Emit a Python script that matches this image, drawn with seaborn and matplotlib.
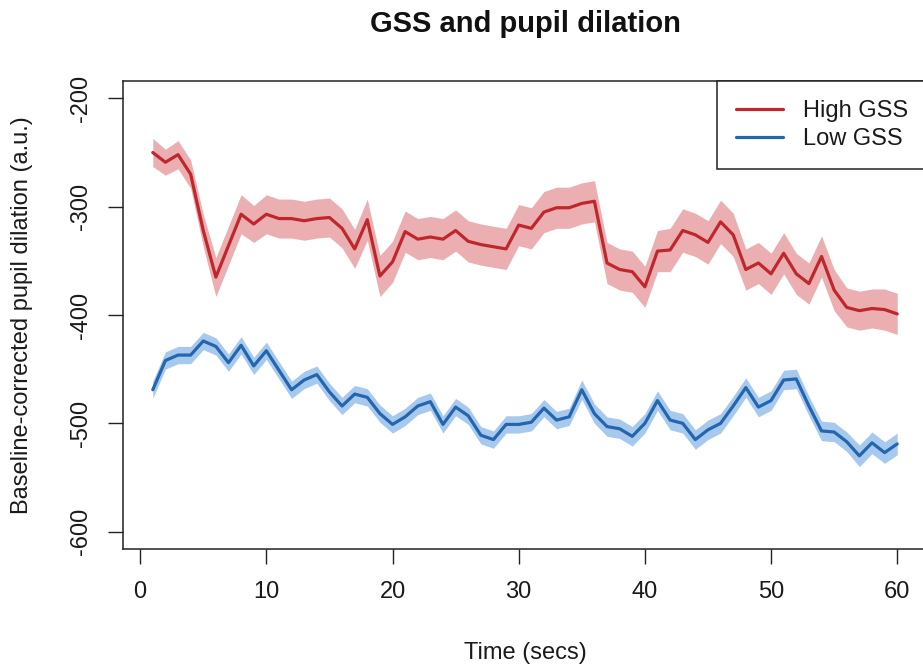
import numpy as np
import pandas as pd
import matplotlib
matplotlib.use("Agg")
import matplotlib.pyplot as plt
import seaborn as sns

# Time points (seconds)
time_secs = list(range(1, 61))

# Mean baseline-corrected pupil dilation per group
high_gss_mean = [-250, -259, -252, -270, -322, -365, -336, -307, -316, -307,
                 -311, -311, -313, -311, -310, -320, -339, -312, -364, -351,
                 -323, -330, -328, -330, -322, -332, -335, -337, -339, -317,
                 -320, -305, -301, -301, -297, -295, -352, -358, -360, -374,
                 -341, -340, -322, -326, -333, -314, -326, -358, -352, -362,
                 -343, -362, -371, -346, -377, -393, -396, -394, -395, -399]
low_gss_mean = [-469, -442, -437, -437, -424, -429, -444, -428, -447, -433,
                -451, -469, -460, -455, -471, -484, -473, -476, -491, -501,
                -494, -484, -480, -501, -485, -493, -511, -515, -501, -501,
                -499, -486, -497, -494, -469, -491, -503, -505, -512, -500,
                -479, -497, -500, -515, -506, -500, -484, -467, -485, -479,
                -460, -459, -484, -507, -508, -517, -530, -518, -527, -519]

# Standard error half-widths for the shaded bands
high_gss_se = [13, 12, 13, 13, 15, 18, 18, 18, 17, 18,
               18, 18, 18, 18, 18, 18, 18, 19, 19, 19,
               19, 19, 19, 19, 19, 19, 19, 19, 19, 19,
               19, 19, 19, 19, 19, 19, 19, 19, 19, 19,
               19, 20, 20, 20, 20, 20, 20, 19, 19, 19,
               19, 19, 19, 19, 19, 18, 18, 18, 19, 19]
low_gss_se = [8, 8, 8, 8, 8, 8, 8, 8, 8, 8,
              8, 8, 8, 8, 8, 8, 8, 8, 8, 8,
              8, 8, 8, 8, 8, 8, 8, 8, 8, 8,
              8, 8, 8, 8, 9, 9, 9, 9, 9, 9,
              9, 9, 9, 9, 9, 9, 9, 9, 9, 9,
              9, 9, 9, 9, 9, 9, 10, 10, 10, 10]

group_labels = ["High GSS", "Low GSS"]
x_ticks = [0, 10, 20, 30, 40, 50, 60]
y_ticks = [-600, -500, -400, -300, -200]

line_colors = ["#C0272D", "#2466AE"]
band_colors = ["#EBAFB2", "#A8C9EE"]

sns.set_theme(style="white")
plt.rcParams["font.family"] = ["Liberation Sans", "DejaVu Sans"]
plt.rcParams["axes.unicode_minus"] = False

W, H = 923, 669
fig = plt.figure(figsize=(W / 100, H / 100), dpi=100)
ax = fig.add_axes([123 / W, (H - 549) / H, 804 / W, 468 / H])

df = pd.DataFrame({
    "time": time_secs * 2,
    "dilation": high_gss_mean + low_gss_mean,
    "group": [group_labels[0]] * len(time_secs) + [group_labels[1]] * len(time_secs),
})

means = [high_gss_mean, low_gss_mean]
ses = [high_gss_se, low_gss_se]
for i, label in enumerate(group_labels):
    m = np.array(means[i])
    s = np.array(ses[i])
    ax.fill_between(time_secs, m - s, m + s, color=band_colors[i],
                    linewidth=0, zorder=1)
    sns.lineplot(data=df[df["group"] == label], x="time", y="dilation",
                 color=line_colors[i], linewidth=2.3, label=label,
                 errorbar=None, ax=ax, zorder=2)

ax.set_xlim(1 - 0.04 * 59, 60 + 0.04 * 59)
ax.set_ylim(-616, -184)
ax.set_xticks(x_ticks)
ax.set_yticks(y_ticks)
ax.set_xlabel("")
ax.set_ylabel("")

for sp in ax.spines.values():
    sp.set_visible(True)
    sp.set_color("#222222")
    sp.set_linewidth(1.1)

ax.tick_params(axis="both", which="major", direction="out", length=11,
               width=1.0, color="#222222", labelsize=17, labelcolor="#1a1a1a",
               bottom=True, left=True)
ax.tick_params(axis="x", pad=12)
ax.tick_params(axis="y", pad=11, labelrotation=90)
for t in ax.get_yticklabels():
    t.set_verticalalignment("center")

leg = ax.legend(loc="upper right", borderaxespad=0, fontsize=17,
                frameon=True, fancybox=False, edgecolor="#222222",
                framealpha=1, handlelength=2.0, handletextpad=0.85,
                borderpad=0.8, labelspacing=0.25)
leg.get_frame().set_linewidth(1.1)
for t in leg.get_texts():
    t.set_color("#1a1a1a")

fig.text(525 / W, 1 - 32 / H, "GSS and pupil dilation", ha="center",
         va="baseline", fontsize=21, fontweight="bold", color="#111111")
fig.text(525 / W, 1 - 659 / H, "Time (secs)", ha="center", va="baseline",
         fontsize=17, color="#1a1a1a")
fig.text(22 / W, 1 - 315 / H, "Baseline-corrected pupil dilation (a.u.)",
         ha="center", va="center", rotation=90, fontsize=17, color="#1a1a1a")

fig.savefig("out.png", dpi=100)
